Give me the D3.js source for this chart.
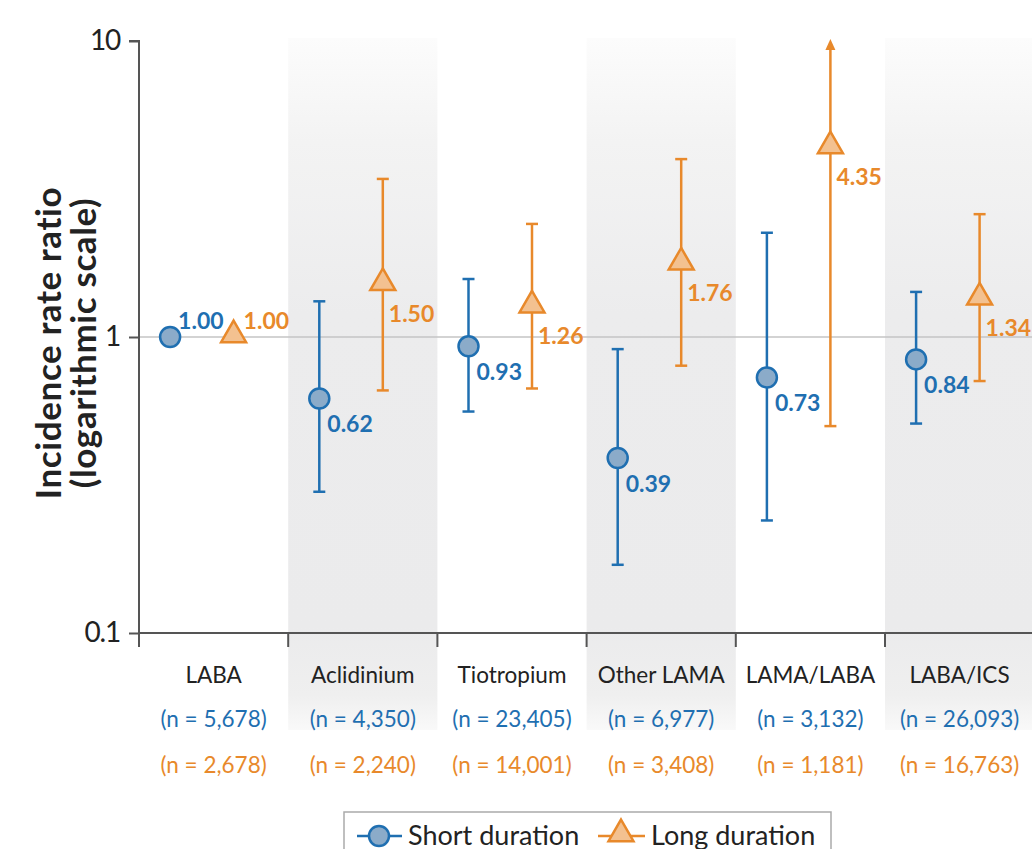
<!DOCTYPE html>
<html>
<head>
<meta charset="utf-8">
<script src="https://cdn.jsdelivr.net/npm/d3@7"></script>
<style>
  html, body { margin: 0; padding: 0; background: #fff; }
  svg { display: block; }
  text { font-family: Lato, "Open Sans", sans-serif; }
</style>
</head>
<body>
<svg id="chart" width="1032" height="849"></svg>
<script>
// Incidence rate ratios (with 95% CI) by treatment group and duration
const categories = ["LABA", "Aclidinium", "Tiotropium", "Other LAMA", "LAMA/LABA", "LABA/ICS"];
const shortN = ["5,678", "4,350", "23,405", "6,977", "3,132", "26,093"];
const longN  = ["2,678", "2,240", "14,001", "3,408", "1,181", "16,763"];

const shortIRR   = [1.00, 0.62, 0.93, 0.39, 0.73, 0.84];
const shortLower = [null, 0.30, 0.56, 0.17, 0.24, 0.51];
const shortUpper = [null, 1.32, 1.57, 0.91, 2.25, 1.42];

const longIRR   = [1.00, 1.50, 1.26, 1.76, 4.35, 1.34];
const longLower = [null, 0.66, 0.67, 0.80, 0.50, 0.71];
const longUpper = [null, 3.42, 2.41, 3.99, 10, 2.60];
const longUpperOpen = [false, false, false, false, true, false]; // CI extends past axis

const yTicks = [10, 1, 0.1];
const yTickLabels = ["10", "1", "0.1"];

const BLUE = "#1f6fb1", BLUE_FILL = "#8babc9";
const ORANGE = "#e8892b", ORANGE_FILL = "#f3c190";

const svg = d3.select("#chart");
const plotLeft = 139, plotRight = 1032, plotTop = 41, plotBottom = 633;

const x = d3.scaleBand().domain(categories).range([plotLeft, plotLeft + 149.2 * 6]).padding(0);
const y = d3.scaleLog().domain([0.1, 10]).range([plotBottom, plotTop]);
const bw = x.bandwidth();
const xShort = c => x(c) + bw / 2 - 43.5;
const xLong  = c => x(c) + bw / 2 + 20;

// shaded alternating bands
const defs = svg.append("defs");
const grad = defs.append("linearGradient").attr("id", "bandGrad")
  .attr("x1", 0).attr("y1", 0).attr("x2", 0).attr("y2", 1);
[[0, "#fcfcfc"], [0.15, "#f3f3f3"], [0.4, "#ececed"], [0.85, "#ebebec"], [0.95, "#efefef"], [1, "#f9f9f9"]]
  .forEach(([o, c]) => grad.append("stop").attr("offset", o).attr("stop-color", c));

svg.append("g").selectAll("rect")
  .data(categories.filter((d, i) => i % 2 === 1))
  .join("rect")
  .attr("x", d => x(d)).attr("y", 38)
  .attr("width", bw).attr("height", 730 - 38)
  .attr("fill", "url(#bandGrad)");

// reference line at IRR = 1
svg.append("line")
  .attr("x1", plotLeft).attr("x2", plotRight)
  .attr("y1", y(1)).attr("y2", y(1))
  .attr("stroke", "#c4c4c4").attr("stroke-width", 1.5);

// y axis
const yAxis = d3.axisLeft(y).tickValues(yTicks)
  .tickFormat((d, i) => yTickLabels[i]).tickSize(10).tickPadding(9);
const gy = svg.append("g").attr("transform", `translate(${plotLeft},0)`).call(yAxis);
gy.select(".domain").attr("stroke", "#555").attr("stroke-width", 2)
  .attr("d", `M-10,${plotTop}H0V${plotBottom}`);
gy.selectAll(".tick line").attr("stroke", "#555").attr("stroke-width", 2);
gy.selectAll(".tick text").attr("font-size", 28).attr("fill", "#222")
  .attr("font-family", "Lato, sans-serif").attr("letter-spacing", -1.2);

// x axis with ticks at band boundaries
svg.append("line").attr("x1", plotLeft).attr("x2", plotRight).attr("y1", plotBottom).attr("y2", plotBottom)
  .attr("stroke", "#555").attr("stroke-width", 2);
svg.append("g").selectAll("line")
  .data(categories)
  .join("line")
  .attr("x1", d => x(d)).attr("x2", d => x(d))
  .attr("y1", plotBottom).attr("y2", plotBottom + 14)
  .attr("stroke", "#555").attr("stroke-width", 2);

// category labels and group sizes
const lab = svg.append("g").attr("text-anchor", "middle");
lab.selectAll(".cat").data(categories).join("text")
  .attr("x", d => x(d) + bw / 2).attr("y", 683)
  .attr("font-size", 22.5).attr("fill", "#222").text(d => d);
lab.selectAll(".ns").data(categories).join("text")
  .attr("x", d => x(d) + bw / 2).attr("y", 727)
  .attr("font-size", 22.5).attr("fill", BLUE).text((d, i) => `(n = ${shortN[i]})`);
lab.selectAll(".nl").data(categories).join("text")
  .attr("x", d => x(d) + bw / 2).attr("y", 773)
  .attr("font-size", 22.5).attr("fill", ORANGE).text((d, i) => `(n = ${longN[i]})`);

// y axis title
const yt = svg.append("text")
  .attr("transform", `translate(0,${343}) rotate(-90)`)
  .attr("text-anchor", "middle").attr("font-weight", 700).attr("font-size", 35)
  .attr("letter-spacing", 0.6).attr("fill", "#222");
yt.append("tspan").attr("x", 0).attr("y", 61).text("Incidence rate ratio");
yt.append("tspan").attr("x", 0).attr("y", 96).text("(logarithmic scale)");

// error bars
function errorBars(g, xs, lo, hi, open, color) {
  categories.forEach((c, i) => {
    if (lo[i] == null) return;
    const cx = xs(c);
    g.append("line").attr("x1", cx).attr("x2", cx)
      .attr("y1", y(lo[i])).attr("y2", open && open[i] ? y(hi[i]) + 6 : y(hi[i]))
      .attr("stroke", color).attr("stroke-width", 2.5);
    g.append("line").attr("x1", cx - 6).attr("x2", cx + 6)
      .attr("y1", y(lo[i])).attr("y2", y(lo[i]))
      .attr("stroke", color).attr("stroke-width", 2.5);
    if (open && open[i]) {
      const ty = y(hi[i]) - 2;
      g.append("path").attr("d", `M${cx},${ty}L${cx - 5},${ty + 11}L${cx + 5},${ty + 11}Z`)
        .attr("fill", color);
    } else {
      g.append("line").attr("x1", cx - 6).attr("x2", cx + 6)
        .attr("y1", y(hi[i])).attr("y2", y(hi[i]))
        .attr("stroke", color).attr("stroke-width", 2.5);
    }
  });
}
const marks = svg.append("g");
errorBars(marks, xShort, shortLower, shortUpper, null, BLUE);
errorBars(marks, xLong, longLower, longUpper, longUpperOpen, ORANGE);

const tri = d3.symbol().type(d3.symbolTriangle).size(270);

marks.selectAll(".pt-s").data(categories).join("circle")
  .attr("cx", d => xShort(d)).attr("cy", (d, i) => y(shortIRR[i])).attr("r", 10)
  .attr("fill", BLUE_FILL).attr("stroke", BLUE).attr("stroke-width", 2.5);
marks.selectAll(".pt-l").data(categories).join("path")
  .attr("d", tri)
  .attr("transform", (d, i) => `translate(${xLong(d)},${y(longIRR[i]) - 2})`)
  .attr("fill", ORANGE_FILL).attr("stroke", ORANGE).attr("stroke-width", 2.5)
  .attr("stroke-linejoin", "miter");

// value labels
const fmt = d3.format(".2f");
const vl = svg.append("g").attr("font-size", 23).attr("font-weight", 700);
vl.selectAll(".vs").data(categories).join("text")
  .attr("x", d => xShort(d) + 8)
  .attr("y", (d, i) => i === 0 ? y(shortIRR[i]) - 8 : y(shortIRR[i]) + 34)
  .attr("fill", BLUE).text((d, i) => fmt(shortIRR[i]));
vl.selectAll(".vlg").data(categories).join("text")
  .attr("x", d => xLong(d) + (d === categories[0] ? 10 : 6))
  .attr("y", (d, i) => i === 0 ? y(longIRR[i]) - 8 : y(longIRR[i]) + 37)
  .attr("fill", ORANGE).text((d, i) => fmt(longIRR[i]));

// legend
const lg = svg.append("g");
lg.append("rect").attr("x", 344).attr("y", 812).attr("width", 487).attr("height", 60)
  .attr("fill", "#fff").attr("stroke", "#aaa").attr("stroke-width", 1.5);
lg.append("line").attr("x1", 357).attr("x2", 402).attr("y1", 836).attr("y2", 836)
  .attr("stroke", BLUE).attr("stroke-width", 2.5);
lg.append("circle").attr("cx", 379).attr("cy", 836).attr("r", 10)
  .attr("fill", BLUE_FILL).attr("stroke", BLUE).attr("stroke-width", 2.5);
lg.append("text").attr("x", 408).attr("y", 845).attr("font-size", 27).attr("fill", "#222").text("Short duration");
lg.append("line").attr("x1", 598).attr("x2", 645).attr("y1", 836).attr("y2", 836)
  .attr("stroke", ORANGE).attr("stroke-width", 2.5);
lg.append("path").attr("d", tri).attr("transform", "translate(621,834)")
  .attr("fill", ORANGE_FILL).attr("stroke", ORANGE).attr("stroke-width", 2.5);
lg.append("text").attr("x", 651).attr("y", 845).attr("font-size", 27).attr("fill", "#222").text("Long duration");
</script>
</body>
</html>
